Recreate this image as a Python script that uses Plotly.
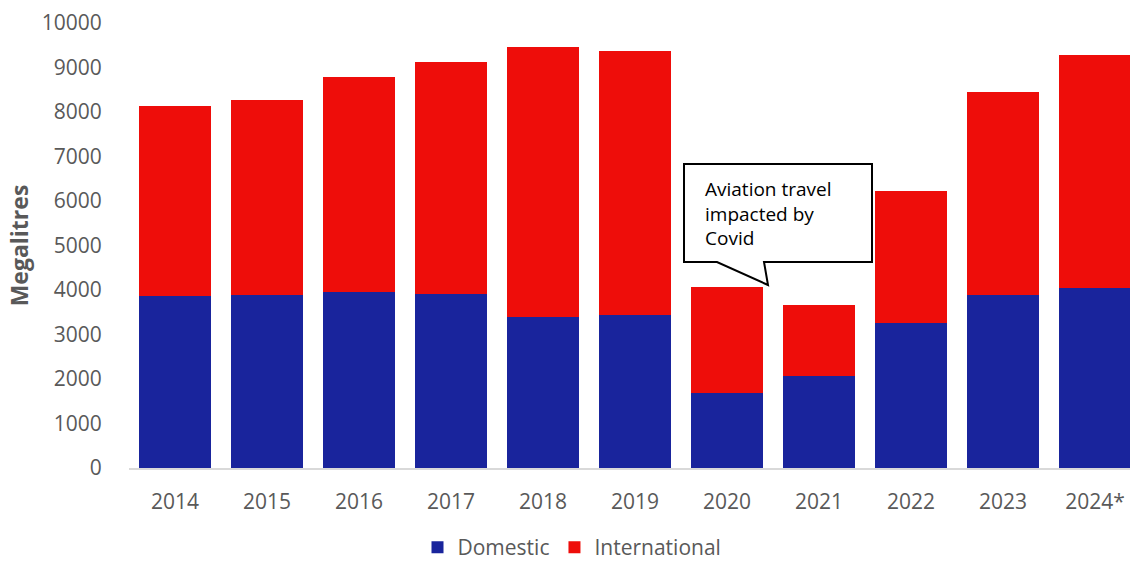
import plotly.graph_objects as go

years = ["2014", "2015", "2016", "2017", "2018", "2019", "2020", "2021", "2022", "2023", "2024*"]
domestic = [3875, 3890, 3965, 3913, 3389, 3448, 1680, 2076, 3268, 3883, 4055]
total = [8125, 8268, 8786, 9130, 9461, 9370, 4064, 3673, 6222, 8448, 9287]
international = [t - d for t, d in zip(total, domestic)]

y_ticks = list(range(0, 10001, 1000))

W, H = 1130, 562
L, R, T, B = 129, 0, 23, 94
plot_w = W - L - R
plot_h = H - T - B
pitch = 92.0  # pixels per category


def px(x):
    return (x - L) / plot_w


def py(y):
    return (H - B - y) / plot_h


FONT = "Open Sans"
GREY = "#595959"

fig = go.Figure()
fig.add_trace(go.Bar(x=years, y=domestic, name="Domestic",
                     marker=dict(color="#19249C", line=dict(width=0))))
fig.add_trace(go.Bar(x=years, y=international, name="International",
                     marker=dict(color="#EE0D0A", line=dict(width=0))))

# speech-bubble callout over the 2020 bar
pts = [(684, 164), (872, 164), (872, 262), (764, 262), (768, 285), (717, 262), (684, 262)]
path = "M " + " L ".join(f"{px(a):.5f},{py(b):.5f}" for a, b in pts) + " Z"
fig.add_shape(type="path", path=path, xref="paper", yref="paper",
              line=dict(color="black", width=2), fillcolor="white", layer="above")
fig.add_annotation(x=px(703), y=py(174), xref="paper", yref="paper",
                   xanchor="left", yanchor="top", align="left", showarrow=False,
                   text="Aviation travel<br>impacted by<br>Covid",
                   font=dict(family=FONT, size=19, color="black"))

fig.update_layout(
    width=W, height=H,
    margin=dict(l=L, r=R, t=T, b=B, pad=0, autoexpand=False),
    barmode="stack",
    bargap=0.228,
    plot_bgcolor="white", paper_bgcolor="white",
    font=dict(family=FONT, color=GREY, size=21),
    showlegend=True,
    legend=dict(orientation="h", x=px(572), xanchor="center", y=py(568), yanchor="bottom",
                font=dict(family=FONT, size=21, color=GREY), traceorder="normal",
                itemwidth=30, tracegroupgap=0, borderwidth=0),
    xaxis=dict(range=[-0.5, -0.5 + plot_w / pitch], showline=True, linecolor="#D9D9D9",
               linewidth=2, ticks="", tickfont=dict(size=21, color=GREY),
               ticklabelstandoff=14, showgrid=False, fixedrange=True),
    yaxis=dict(range=[0, 10000], tickvals=y_ticks, ticktext=[str(v) for v in y_ticks],
               showgrid=False, zeroline=False, showline=False, ticks="outside",
               ticklen=22, tickcolor="rgba(0,0,0,0)",
               tickfont=dict(size=21, color=GREY),
               title=dict(text="<b>Megalitres</b>", font=dict(size=23, color=GREY), standoff=6)),
)

fig.write_html("out.html")
